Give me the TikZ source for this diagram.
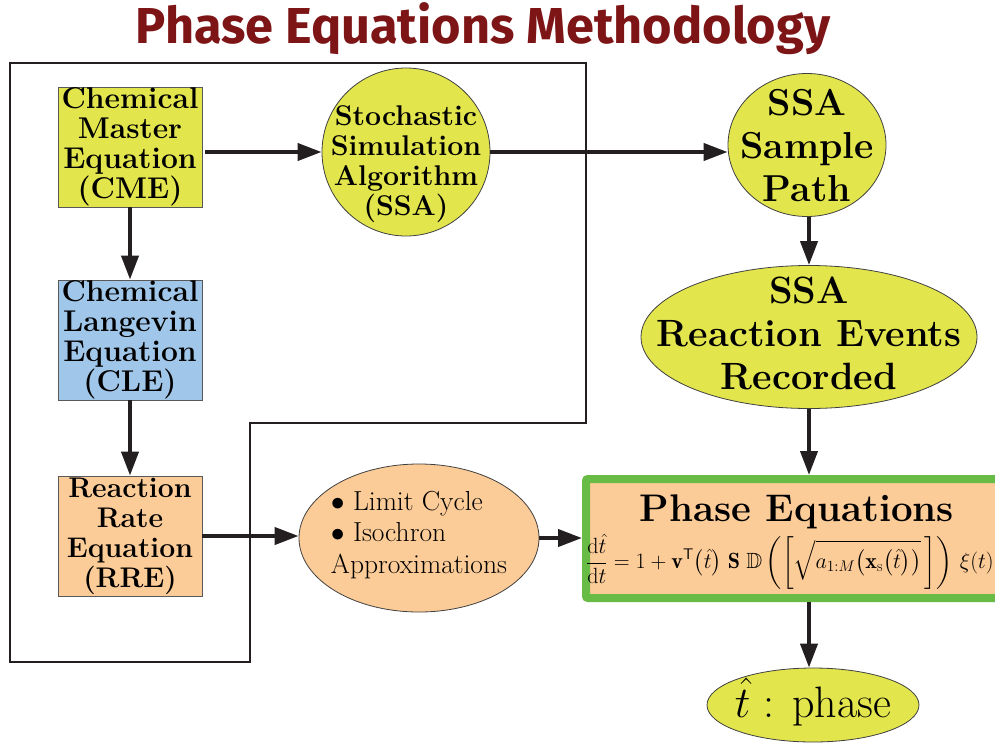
\documentclass[tikz,border=0pt]{standalone}
\usepackage{fix-cm}
\usepackage{amsmath,amssymb}
\usepackage{fontspec}
\newfontfamily\titulofonte{Fira Sans}
\usetikzlibrary{shapes.geometric,arrows.meta,positioning}

\definecolor{cmeyellow}{RGB}{227,229,77}
\definecolor{cleblue}{RGB}{160,199,234}
\definecolor{rreorange}{RGB}{251,203,152}
\definecolor{phasegreen}{RGB}{104,187,69}
\definecolor{titlered}{RGB}{125,20,22}
\definecolor{linegray}{RGB}{35,31,32}

\tikzset{
    caixa/.style={draw=black!65, line width=0.8pt, minimum width=144pt,
        minimum height=120pt, inner sep=0pt, align=center},
    oval/.style={ellipse, draw=black!75, line width=0.8pt, inner sep=0pt},
    fluxo/.style={draw=linegray, line width=4pt, -{Triangle[length=24pt,width=17pt]}},
    moldura/.style={draw=linegray, line width=2pt, line join=miter},
    txt/.style 2 args={align=center, font=\fontsize{#1}{#2}\selectfont\bfseries},
}

\begin{document}
\begin{tikzpicture}[x=1pt,y=-1pt]
    \useasboundingbox (0,0) rectangle (995,742);

    % titulo
    \node[text=titlered, font=\titulofonte\bfseries\fontsize{50.5}{54}\selectfont] (titulo) at (483,29)
        {Phase Equations Methodology};

    % moldura em L
    \draw[moldura] (10,63) -- (586,63) -- (586,423) -- (250,423) -- (250,662) -- (10,662) -- cycle;

    % coluna da esquerda: CME, CLE, RRE
    \node[caixa, fill=cmeyellow, txt={30}{30}] (cme) at (130,147) {Chemical\\Master\\Equation\\(CME)};
    \node[caixa, fill=cleblue, txt={30}{30}] (cle) at (130,340) {Chemical\\Langevin\\Equation\\(CLE)};
    \node[caixa, fill=rreorange, txt={28.4}{30}] (rre) at (130,536) {Reaction\\Rate\\Equation\\(RRE)};

    % SSA e ramo da direita
    \node[oval, circle, fill=cmeyellow, minimum size=168pt,
        label={[txt={28.5}{30}, yshift=-12pt]center:{Stochastic\\Simulation\\Algorithm\\(SSA)}}] (ssa) at (406,152) {};
    \node[oval, fill=cmeyellow, minimum width=158pt, minimum height=143pt,
        label={[txt={37.5}{43}]center:{SSA\\Sample\\Path}}] (caminho) at (807,145) {};
    \node[oval, fill=cmeyellow, minimum width=336pt, minimum height=143pt,
        label={[txt={38}{43}, yshift=4pt]center:{SSA\\Reaction Events\\Recorded}}] (eventos) at (809,337) {};

    % aproximacoes
    \node[oval, fill=rreorange, minimum width=240pt, minimum height=148pt,
        label={[align=left, font=\fontsize{27.5}{31.5}\selectfont, yshift=3pt]center:{$\bullet$ Limit Cycle\\$\bullet$ Isochron\\Approximations}}] (aprox) at (419,538) {};

    % equacoes de fase
    \node[draw=phasegreen, line width=8pt, fill=rreorange, rounded corners=2pt,
        minimum width=444pt, minimum height=119pt, inner sep=0pt] (fase) at (808,538.5) {};
    \node[font=\fontsize{38.5}{40}\selectfont\bfseries] (fasetitulo) at (797,512) {Phase Equations};
    \node[font=\fontsize{22}{26}\selectfont] (faseeq) at (790,562)
        {$\displaystyle \frac{\mathrm{d}\hat{t}}{\mathrm{d}t} = 1 + \mathbf{v}^{\mathsf{T}}\bigl(\hat{t}\bigr)\;\mathbf{S}\;\mathbb{D}\left(\left[\sqrt{a_{1:M}\bigl(\mathbf{x}_{\mathrm{s}}\bigl(\hat{t}\bigr)\bigr)}\,\right]\right)\,\xi(t)$};

    % fase
    \node[oval, fill=cmeyellow, minimum width=212pt, minimum height=74pt,
        label={[font=\fontsize{44}{46}\selectfont, yshift=3pt]center:{$\hat{t}$ : phase}}] (fasehat) at (813,705) {};

    % setas
    \foreach \a/\b in {cme/cle, cle/rre}{
        \draw[fluxo] (\a) -- (\b);
    }
    \draw[fluxo, shorten <=3pt] (cme.east |- ssa.west) -- (ssa.west);
    \draw[fluxo] (ssa.east) -- (ssa.east -| caminho.west);
    \draw[fluxo] (caminho.south -| eventos.north) -- (eventos.north);
    \draw[fluxo] (eventos.south) -- (eventos.south |- fase.north);
    \draw[fluxo] (rre.east) -- (rre.east -| aprox.west);
    \draw[fluxo] (aprox.east) -- (aprox.east -| fase.west);
    \draw[fluxo] (eventos.south |- fase.south) -- (eventos.south |- fasehat.north);
\end{tikzpicture}
\end{document}
